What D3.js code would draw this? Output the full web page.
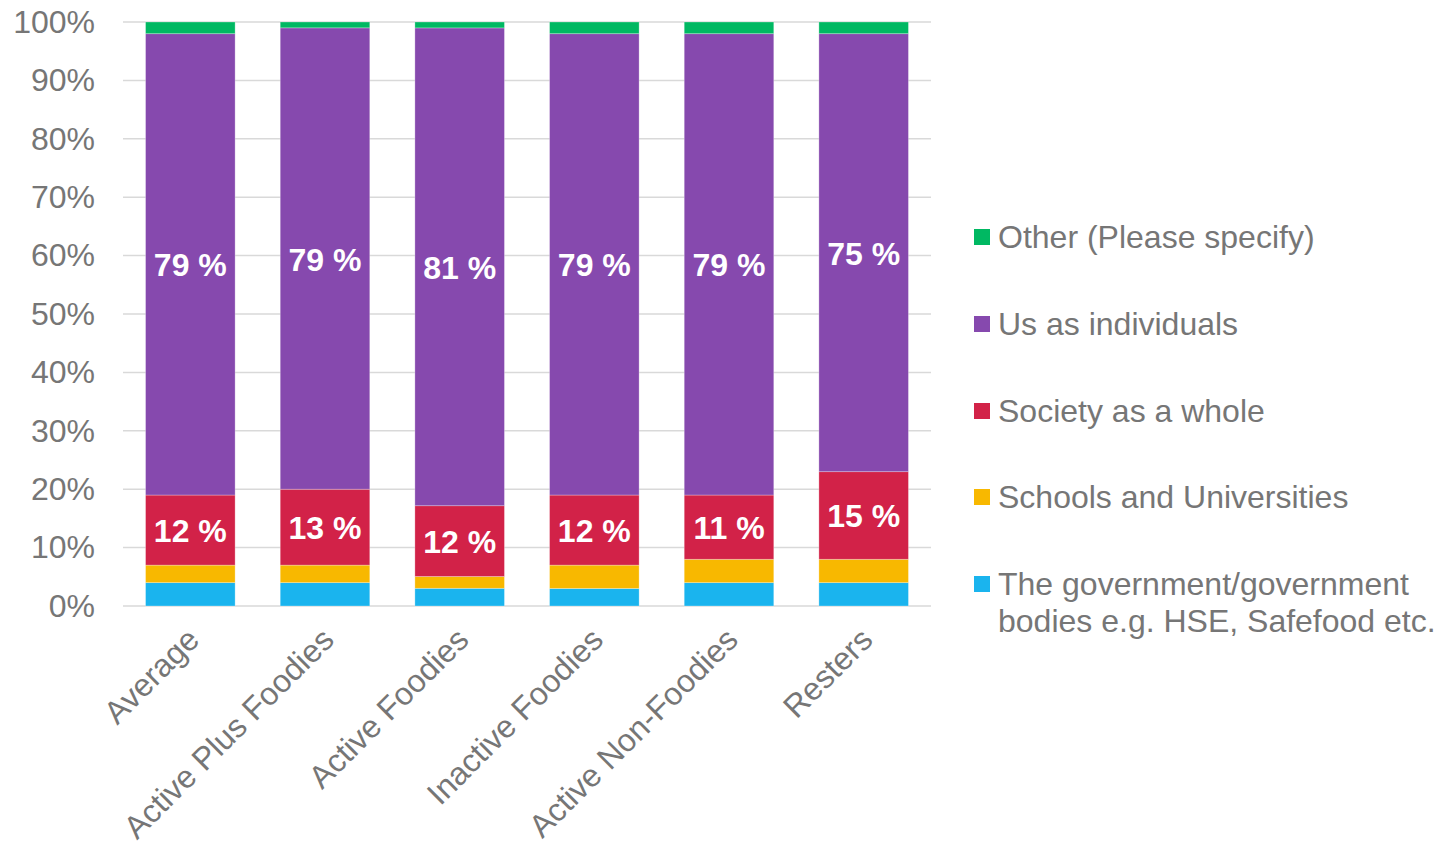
<!DOCTYPE html>
<html>
<head>
<meta charset="utf-8">
<script src="https://cdn.jsdelivr.net/npm/d3@7"></script>
<style>
  html, body { margin: 0; padding: 0; background: #fff; }
  svg { display: block; font-family: "Liberation Sans", Arial, sans-serif; }
</style>
</head>
<body>
<svg id="chart" width="1435" height="844"></svg>
<script>
// Who is responsible — share of answers by segment
const categories = ["Average", "Active Plus Foodies", "Active Foodies", "Inactive Foodies", "Active Non-Foodies", "Resters"];
const seriesNames = [
  "The government/government bodies e.g. HSE, Safefood etc.",
  "Schools and Universities",
  "Society as a whole",
  "Us as individuals",
  "Other (Please specify)"
];
const government = [4, 4, 3, 3, 4, 4];
const schools    = [3, 3, 2, 4, 4, 4];
const society    = [12, 13, 12, 12, 11, 15];
const individuals = [79, 79, 81, 79, 79, 75];
const other      = [2, 1, 1, 2, 2, 2];
const yTicks = [0, 0.1, 0.2, 0.3, 0.4, 0.5, 0.6, 0.7, 0.8, 0.9, 1.0];
const colors = ["#1AB4EE", "#F8B800", "#D22248", "#8649AE", "#00B862"];
const labelledSeries = [2, 3];

const seriesValues = [government, schools, society, individuals, other];
const keys = seriesNames.map((_, i) => "s" + i);
const rows = categories.map((c, j) => {
  const r = { category: c };
  seriesValues.forEach((vals, i) => { r[keys[i]] = vals[j]; });
  return r;
});

const svg = d3.select("#chart");
const margin = { left: 123, right: 931, top: 22, bottom: 606 };
const textGrey = "#767676";

const x = d3.scaleBand().domain(categories).range([margin.left, margin.right])
  .paddingInner(0.335).paddingOuter(0.1675);
const y = d3.scaleLinear().domain([0, 1]).range([margin.bottom, margin.top]);

const stacked = d3.stack().keys(keys).offset(d3.stackOffsetExpand)(rows);

// gridlines
svg.append("g").selectAll("line").data(yTicks).join("line")
  .attr("x1", margin.left).attr("x2", margin.right)
  .attr("y1", d => y(d)).attr("y2", d => y(d))
  .attr("stroke", "#d9d9d9").attr("stroke-width", 1.5);

// y axis labels
const yAxis = d3.axisLeft(y).tickValues(yTicks).tickFormat(d3.format(".0%")).tickSize(0).tickPadding(28);
const ya = svg.append("g").attr("transform", `translate(${margin.left},0)`).call(yAxis);
ya.select(".domain").remove();
ya.selectAll("text").attr("fill", textGrey).style("font-size", "32px")
  .style("font-family", "'Liberation Sans', Arial, sans-serif");

// stacked bars
const layer = svg.append("g").selectAll("g").data(stacked).join("g")
  .attr("fill", (d, i) => colors[i]);
layer.selectAll("rect").data(d => d).join("rect")
  .attr("x", d => x(d.data.category))
  .attr("width", x.bandwidth())
  .attr("y", d => y(d[1]))
  .attr("height", d => y(d[0]) - y(d[1]))
  .attr("stroke", "#ffffff").attr("stroke-opacity", 0.35).attr("stroke-width", 0.8);

// value labels
labelledSeries.forEach(si => {
  svg.append("g").selectAll("text").data(stacked[si]).join("text")
    .attr("x", d => x(d.data.category) + x.bandwidth() / 2)
    .attr("y", d => (y(d[0]) + y(d[1])) / 2 + 1)
    .attr("text-anchor", "middle")
    .attr("dominant-baseline", "central")
    .attr("fill", "#ffffff")
    .style("font-size", "32px").style("font-weight", "bold")
    .text((d, j) => seriesValues[si][j] + " %");
});

// category labels, rotated
svg.append("g").selectAll("text").data(categories).join("text")
  .attr("transform", d => `translate(${x(d) + x.bandwidth() / 2 + 3},${634}) rotate(-45)`)
  .attr("text-anchor", "end")
  .attr("dominant-baseline", "central")
  .attr("fill", textGrey)
  .style("font-size", "32px")
  .text(d => d);

// legend
const legendOrder = [4, 3, 2, 1, 0];
const legendY = [237, 324, 411, 497, 584];
const lg = svg.append("g");
legendOrder.forEach((si, k) => {
  const g = lg.append("g").attr("transform", `translate(974,${legendY[k]})`);
  g.append("rect").attr("x", 0).attr("y", -8).attr("width", 16).attr("height", 16).attr("fill", colors[si]);
  const name = seriesNames[si];
  const lines = si === 0 ? ["The government/government", "bodies e.g. HSE, Safefood etc."] : [name];
  const t = g.append("text").attr("x", 24).attr("fill", textGrey).style("font-size", "32px");
  lines.forEach((ln, li) => {
    t.append("tspan").attr("x", 24).attr("y", li * 37).attr("dominant-baseline", "central").text(ln);
  });
});
</script>
</body>
</html>
